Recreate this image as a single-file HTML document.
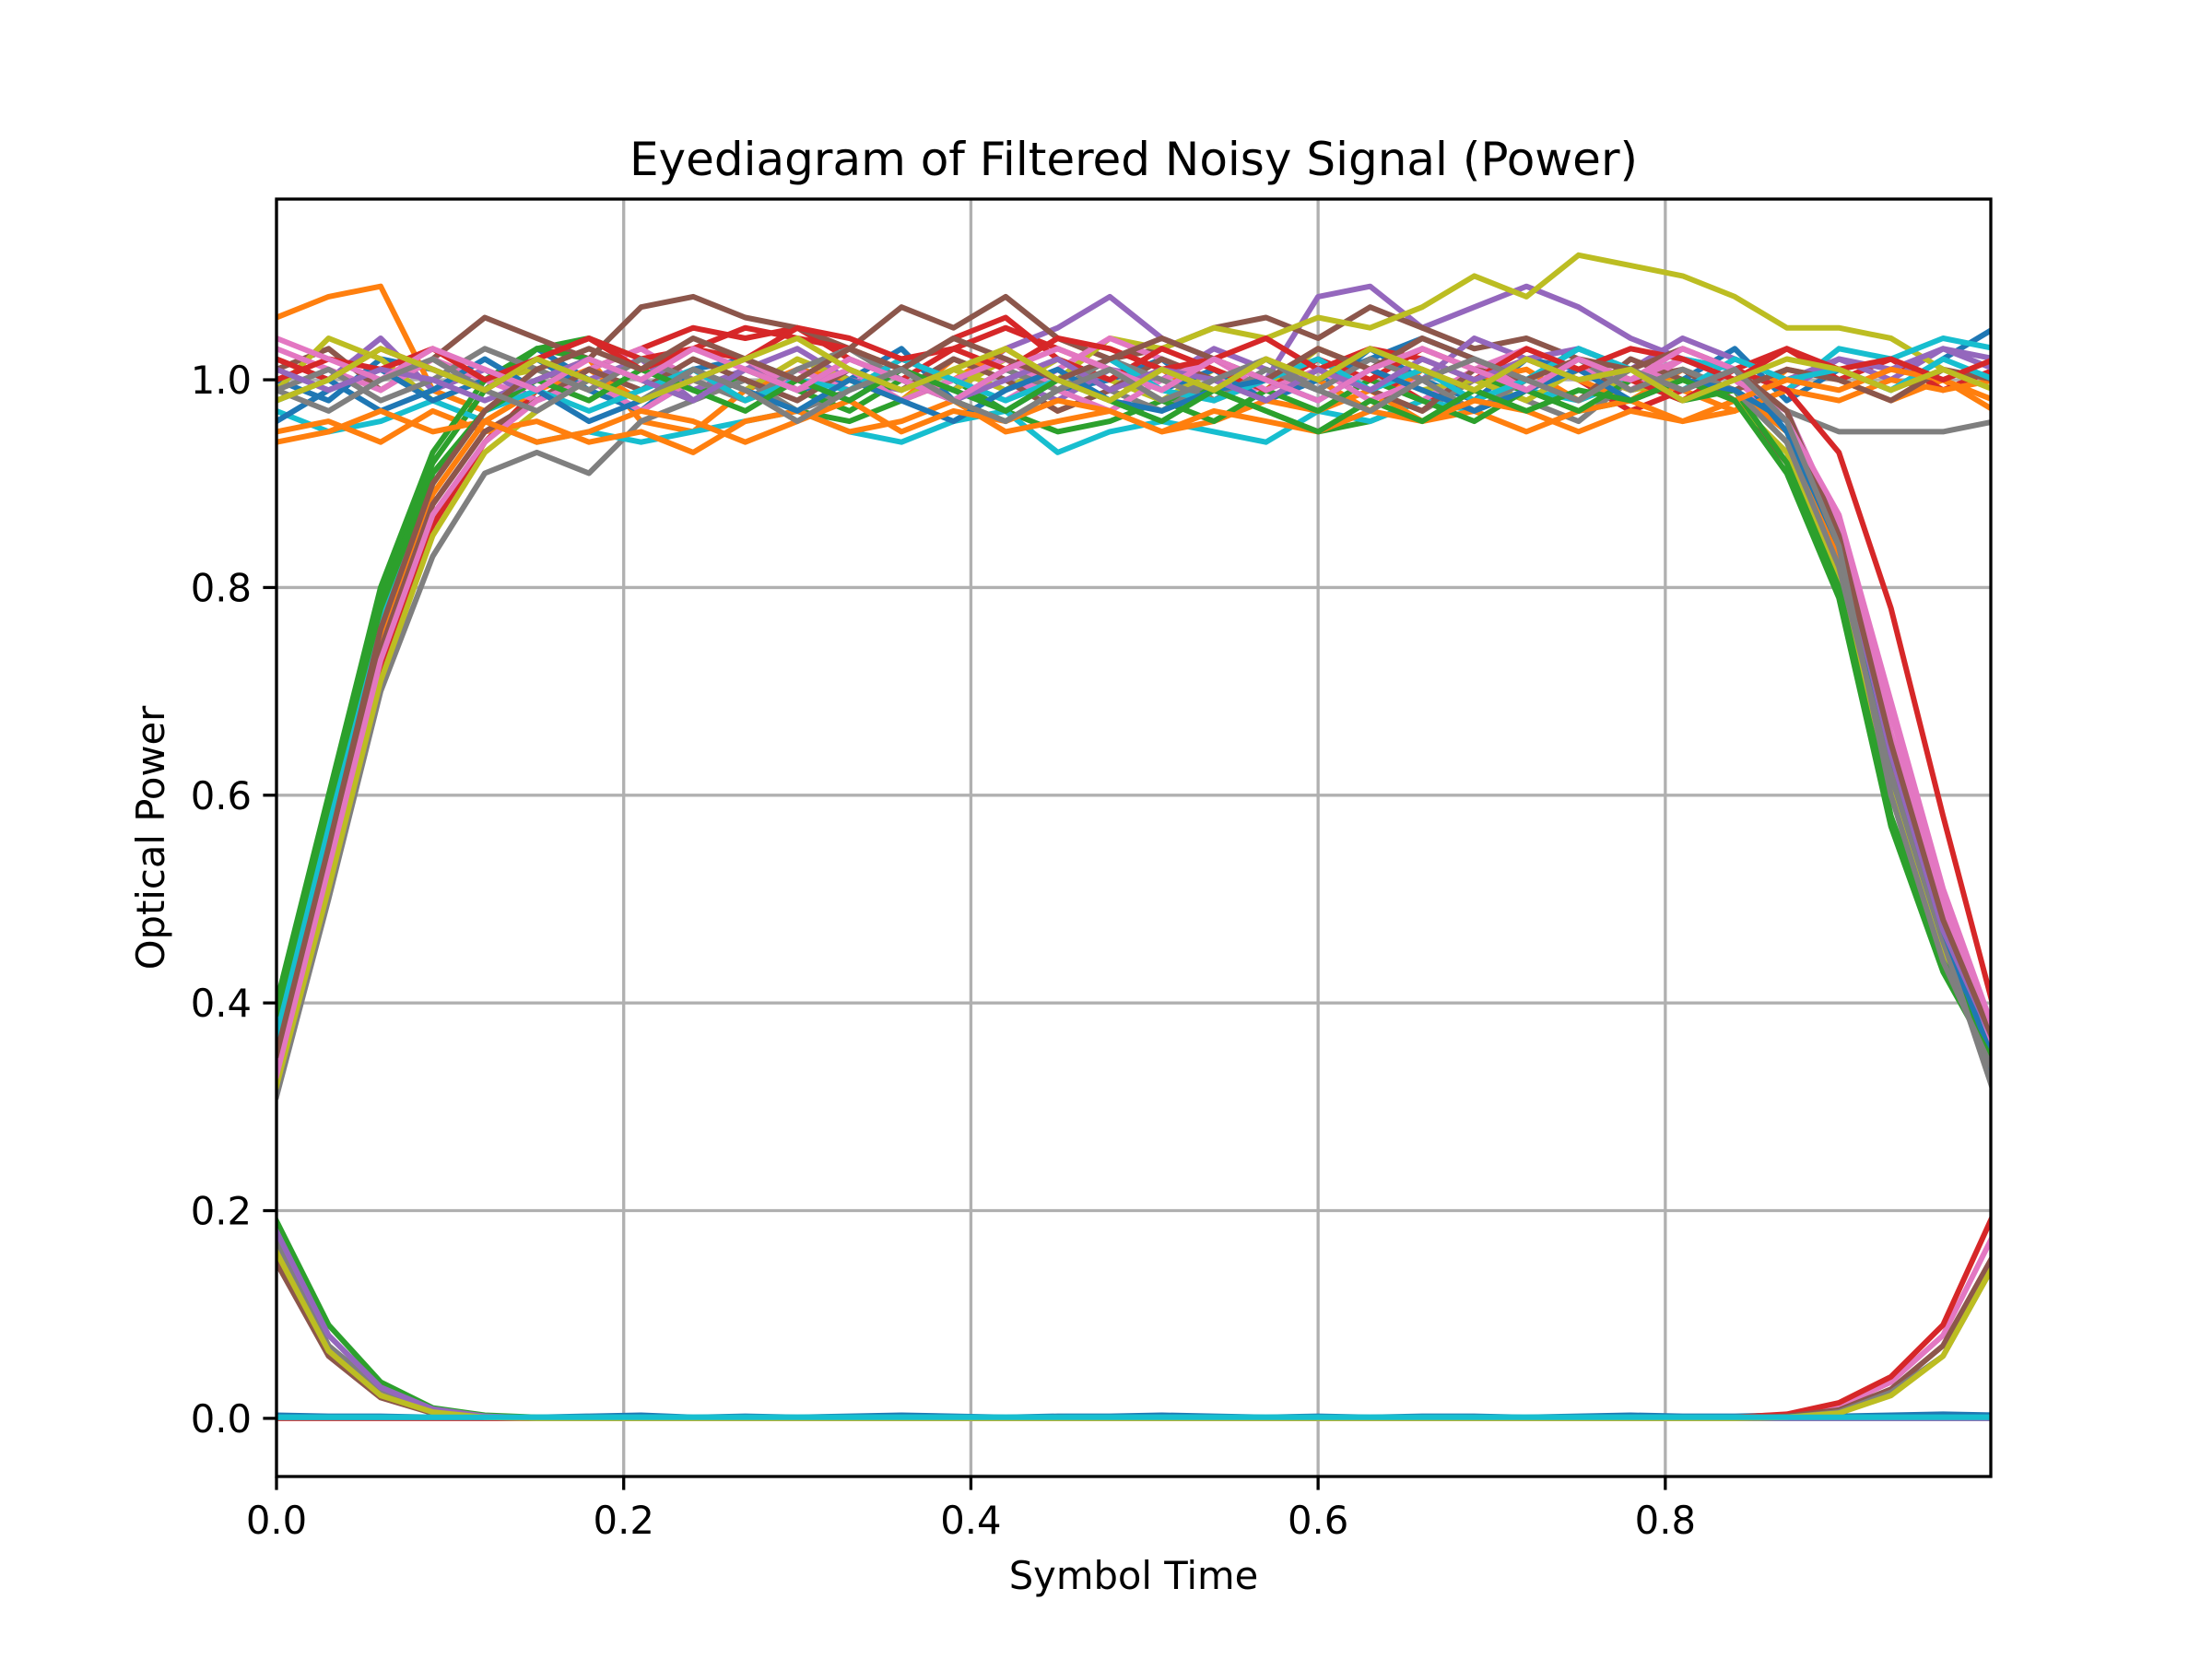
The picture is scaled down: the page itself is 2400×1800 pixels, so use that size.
<!DOCTYPE html>
<html><head><meta charset="utf-8"><style>
html,body{margin:0;padding:0;background:#fff;}
svg{display:block;font-family:"DejaVu Sans","Liberation Sans",sans-serif;}
</style></head><body>
<svg id="chart" width="2400" height="1800" viewBox="0 0 2400 1800" xmlns="http://www.w3.org/2000/svg">
<rect x="0" y="0" width="2400" height="1800" fill="#fff"/>
<defs><clipPath id="plotclip"><rect x="300" y="216" width="1860" height="1386"/></clipPath></defs>
<g id="grid"></g>
<g id="traces" clip-path="url(#plotclip)"></g>
<rect x="300" y="216" width="1860" height="1386" fill="none" stroke="#000" stroke-width="3.3"/>
<g id="ticks"></g>
<text x="1230" y="190" font-size="50" text-anchor="middle">Eyediagram of Filtered Noisy Signal (Power)</text>
<text x="1230" y="1724" font-size="41.7" text-anchor="middle">Symbol Time</text>
<text x="0" y="0" font-size="41.7" text-anchor="middle" transform="translate(178,909) rotate(-90)">Optical Power</text>
</svg>
<script>
const xTicks=[0,0.2,0.4,0.6,0.8];
const xTickLabels=["0.0","0.2","0.4","0.6","0.8"];
const yTicks=[0,0.2,0.4,0.6,0.8,1.0];
const yTickLabels=["0.0","0.2","0.4","0.6","0.8","1.0"];
const times=[0,0.03,0.06,0.09,0.12,0.15,0.18,0.21,0.24,0.27,0.30,0.33,0.36,0.39,0.42,0.45,0.48,0.51,0.54,0.57,0.60,0.63,0.66,0.69,0.72,0.75,0.78,0.81,0.84,0.87,0.90,0.93,0.96,0.99];
const colors=["#1f77b4","#ff7f0e","#2ca02c","#d62728","#9467bd","#8c564b","#e377c2","#7f7f7f","#bcbd22","#17becf"];
const trace0=[1.00,0.98,1.02,1.01,0.99,1.03,1.00,0.97,1.01,1.02,0.99,1.00,1.03,0.98,1.01,0.99,1.00,1.02,0.98,1.01,0.99,1.03,1.00,0.98,1.02,1.01,0.99,1.00,1.03,0.98,1.01,0.99,1.02,1.05];
const trace1=[1.06,1.08,1.09,0.99,0.97,1.00,1.02,0.96,0.95,0.99,1.01,1.00,0.98,1.02,1.00,0.97,0.99,1.01,0.98,1.00,1.02,0.99,0.97,1.00,1.01,0.98,1.00,0.99,0.97,1.01,1.00,0.98,1.00,0.97];
const trace2=[0.38,0.58,0.79,0.92,0.99,1.03,1.04,1.02,0.99,1.00,0.97,0.96,0.98,1.00,0.97,0.95,0.96,0.98,0.99,0.97,0.95,0.96,0.98,1.00,0.99,0.97,0.98,1.00,0.99,0.94,0.82,0.60,0.46,0.34];
const trace3=[0.33,0.52,0.72,0.86,0.94,0.99,1.01,1.03,1.05,1.04,1.05,1.02,1.00,1.03,1.05,1.03,1.01,0.99,1.02,1.00,1.03,1.01,0.98,1.00,1.02,1.00,0.97,0.99,1.01,1.03,1.00,1.02,0.99,1.01];
const trace4=[1.02,1.00,1.04,0.99,1.01,0.98,1.00,1.02,0.99,1.01,1.00,0.98,1.01,0.99,1.03,1.05,1.08,1.04,1.02,1.00,1.08,1.09,1.05,1.07,1.09,1.07,1.04,1.02,1.01,0.99,1.02,1.00,1.03,1.01];
const trace5=[1.01,1.03,0.99,1.02,1.06,1.04,1.02,1.07,1.08,1.06,1.05,1.03,1.07,1.05,1.08,1.04,1.02,1.03,1.05,1.06,1.04,1.07,1.05,1.03,1.04,1.02,1.00,1.01,0.98,0.92,0.80,0.63,0.48,0.35];
const trace6=[0.16,0.07,0.025,0.006,0.001,0,0,0,0,0,0,0,0,0,0,0,0,0,0,0,0,0,0,0,0,0,0,0,0.001,0.003,0.012,0.035,0.08,0.18];
const trace7=[0.31,0.50,0.70,0.83,0.91,0.93,0.91,0.96,0.98,1.00,0.97,0.99,1.01,0.98,1.00,1.02,0.99,0.97,1.00,0.98,1.01,0.99,0.97,1.00,0.98,0.96,1.00,1.02,1.00,0.97,0.95,0.95,0.95,0.96];
const trace8=[0.99,1.04,1.02,0.98,1.00,1.01,0.99,1.02,1.00,0.98,1.00,1.03,1.01,0.99,1.02,1.00,1.04,1.03,1.05,1.04,1.06,1.05,1.07,1.10,1.08,1.12,1.11,1.10,1.08,1.05,1.05,1.04,1.01,0.99];
const trace9=[0.97,0.95,0.96,0.98,0.96,0.94,0.95,0.94,0.95,0.96,0.97,0.95,0.94,0.96,0.97,0.93,0.95,0.96,0.95,0.94,0.97,0.96,0.98,0.97,0.99,0.98,1.00,1.02,1.01,0.99,1.03,1.02,1.04,1.03];
const trace10=[0.003,0.002,0.002,0.001,0.002,0.001,0.002,0.003,0.001,0.002,0.001,0.002,0.003,0.002,0.001,0.002,0.002,0.003,0.002,0.001,0.002,0.001,0.002,0.002,0.001,0.002,0.003,0.002,0.002,0.003,0.002,0.003,0.004,0.003];
const trace11=[0.36,0.55,0.75,0.89,0.96,0.99,1.01,0.98,1.00,1.02,0.99,1.01,0.98,1.00,1.03,1.00,0.98,1.01,0.99,1.02,1.00,0.97,1.01,0.99,1.02,1.00,0.98,1.01,0.99,0.95,0.83,0.63,0.47,0.36];
const trace12=[0.19,0.09,0.035,0.01,0.003,0.001,0,0,0,0,0,0,0,0,0,0,0,0,0,0,0,0,0,0,0,0,0,0,0,0,0,0,0,0];
const trace13=[0,0,0,0,0,0,0.001,0,0,0,0,0,0,0,0,0.001,0,0,0,0,0,0,0,0.001,0,0,0,0,0.001,0.004,0.015,0.04,0.09,0.20];
const trace14=[0.34,0.54,0.74,0.88,0.95,0.98,1.00,1.02,0.98,1.01,1.03,1.00,0.99,1.02,1.00,0.98,1.01,1.00,1.03,1.01,0.99,1.02,1.00,1.04,1.02,1.03,1.01,1.04,1.02,1.00,1.02,1.01,1.03,1.02];
const trace15=[0.15,0.06,0.02,0.005,0.001,0,0,0,0,0,0,0,0,0,0,0,0,0,0,0,0,0,0,0,0,0,0,0,0,0.002,0.008,0.028,0.07,0.16];
const trace16=[1.03,1.01,0.99,1.02,1.00,0.98,1.01,1.03,1.00,0.98,1.01,0.99,1.02,1.00,0.98,1.01,1.04,1.02,1.00,0.99,1.02,1.00,0.98,1.01,1.03,1.01,0.99,1.02,1.00,0.96,0.86,0.68,0.50,0.37];
const trace17=[0.17,0.07,0.028,0.008,0.002,0,0,0,0,0,0,0,0,0,0,0,0,0,0,0,0,0,0,0,0,0,0,0,0,0.001,0.006,0.025,0.06,0.15];
const trace18=[0.32,0.51,0.71,0.85,0.93,0.97,1.00,0.98,1.01,0.99,1.02,1.00,0.98,1.01,0.99,1.02,1.00,0.98,1.01,0.99,1.03,1.01,0.99,1.00,0.98,1.01,0.99,1.00,0.98,0.93,0.81,0.61,0.45,0.33];
const trace19=[0.001,0.001,0.001,0.001,0.001,0.001,0.001,0.001,0.001,0.001,0.001,0.001,0.001,0.001,0.001,0.001,0.001,0.001,0.001,0.001,0.001,0.001,0.001,0.001,0.001,0.001,0.001,0.001,0.001,0.001,0.001,0.001,0.001,0.001];
const trace20=[0.96,0.99,1.01,0.98,1.00,1.02,0.99,0.97,1.00,1.02,1.00,0.98,1.01,0.99,0.97,1.00,1.02,0.99,1.01,0.98,1.00,1.02,1.04,1.02,1.00,1.03,1.01,0.99,1.01,0.95,0.84,0.62,0.46,0.32];
const trace21=[0.95,0.96,0.94,0.97,0.95,0.96,0.94,0.95,0.93,0.96,0.97,0.95,0.96,0.98,0.95,0.96,0.97,0.95,0.96,0.98,0.97,0.99,0.96,0.97,0.95,0.97,0.98,0.96,0.97,0.99,0.98,1.00,0.99,1.00];
const trace22=[0.40,0.60,0.80,0.93,1.00,1.03,1.02,1.00,0.98,1.01,0.99,0.97,1.00,0.98,0.96,0.99,1.01,0.98,0.96,0.99,0.97,1.00,0.98,0.96,0.99,0.97,1.00,0.98,0.99,0.92,0.80,0.58,0.44,0.35];
const trace23=[1.02,1.00,1.03,1.01,0.99,1.02,1.04,1.02,1.03,1.05,1.04,1.03,1.01,1.04,1.06,1.02,1.00,1.03,1.01,0.99,1.02,1.00,1.03,1.01,0.99,1.02,1.00,0.98,1.01,0.99,0.93,0.78,0.58,0.39];
const trace24=[0.18,0.08,0.03,0.009,0.002,0,0,0,0,0,0,0,0,0,0,0,0,0,0,0,0,0,0,0,0,0,0,0,0,0,0,0,0,0];
const trace25=[0.35,0.55,0.74,0.88,0.95,0.98,1.01,0.99,1.02,1.00,0.98,1.01,0.99,1.02,1.00,0.97,0.99,1.02,1.00,0.98,1.01,0.99,0.97,1.01,1.00,0.98,1.02,1.00,0.99,1.01,1.00,0.98,1.01,1.00];
const trace26=[0.33,0.53,0.73,0.87,0.94,0.98,1.00,0.97,1.00,1.02,0.99,1.01,0.98,1.00,1.02,0.99,0.97,1.00,1.02,0.99,1.01,0.98,1.00,1.02,0.99,1.01,1.00,1.02,1.00,0.97,0.86,0.66,0.49,0.35];
const trace27=[0.99,1.01,0.98,1.00,1.03,1.01,0.99,1.02,1.00,0.98,1.01,1.03,1.00,0.98,1.01,0.99,1.02,1.00,0.98,1.01,0.99,1.02,1.00,0.97,1.00,1.02,0.99,1.01,0.99,0.94,0.82,0.62,0.46,0.31];
const trace28=[0.16,0.065,0.022,0.006,0.001,0,0,0,0,0,0,0,0,0,0,0,0,0,0,0,0,0,0,0,0,0,0,0,0,0.001,0.005,0.022,0.06,0.15];
const trace29=[0.37,0.57,0.77,0.90,0.97,0.99,0.97,0.99,1.01,0.98,1.00,0.99,1.02,1.00,0.98,1.00,1.02,0.99,0.98,1.00,1.02,0.99,1.01,0.98,1.00,1.03,1.01,0.99,1.02,1.00,1.01,0.99,1.02,1.00];
const trace30=[0.98,1.00,0.97,0.99,1.02,0.99,0.96,0.98,1.01,0.99,0.97,1.00,0.98,0.96,0.99,1.01,0.98,0.97,0.99,1.00,0.98,1.01,0.99,0.97,0.99,1.01,0.98,1.00,0.99,0.96,0.85,0.64,0.47,0.34];
const trace31=[0.94,0.95,0.97,0.95,0.96,0.94,0.95,0.97,0.96,0.94,0.96,0.98,0.95,0.97,0.96,0.98,0.97,0.95,0.97,0.96,0.95,0.97,0.96,0.98,0.97,0.95,0.97,0.96,0.98,1.00,0.99,1.01,1.00,0.98];
const trace32=[0.39,0.59,0.78,0.91,0.97,1.00,0.98,1.01,0.99,0.97,1.00,0.98,1.01,0.99,0.97,1.00,0.98,0.96,0.99,0.97,0.95,0.98,0.96,0.99,0.97,0.99,0.98,1.00,0.98,0.91,0.79,0.57,0.43,0.34];
const trace33=[1.00,1.02,1.01,1.03,1.00,1.02,1.04,1.01,1.03,1.02,1.05,1.04,1.02,1.03,1.01,1.04,1.03,1.01,1.02,1.04,1.01,1.03,1.02,1.00,1.03,1.01,1.03,1.02,1.00,1.03,1.01,1.02,1.00,1.02];
const trace34=[1.01,0.99,1.01,1.00,0.98,1.00,1.02,1.00,0.98,1.01,0.99,1.02,1.00,0.98,1.00,1.02,0.99,1.01,1.00,0.98,1.01,0.99,1.02,1.00,1.02,1.00,1.01,0.99,1.01,0.97,0.85,0.64,0.47,0.36];
const trace35=[0.35,0.55,0.76,0.90,0.97,1.01,1.03,1.01,1.04,1.02,1.00,1.03,1.01,1.04,1.02,1.00,1.02,1.04,1.02,1.00,1.03,1.01,1.04,1.02,1.00,1.02,1.01,1.03,1.01,0.97,0.85,0.65,0.48,0.36];
const trace36=[1.04,1.02,1.00,1.03,1.01,0.99,1.02,1.00,1.03,1.01,0.99,1.02,1.00,0.98,1.01,1.03,1.01,0.99,1.02,1.00,0.98,1.01,1.03,1.01,0.99,1.02,1.00,1.03,1.01,0.96,0.87,0.69,0.51,0.37];
const trace37=[0.99,0.97,1.00,1.02,0.99,0.97,1.00,0.98,1.01,0.99,0.96,0.99,1.01,0.98,0.96,0.99,1.01,0.98,1.00,1.02,0.99,0.97,1.00,1.02,1.00,0.98,1.01,0.99,1.01,0.96,0.84,0.60,0.44,0.33];
const trace38=[0.98,1.00,1.03,1.01,0.99,1.02,1.00,0.98,1.00,1.02,1.04,1.01,0.99,1.01,1.03,1.00,0.98,1.01,0.99,1.02,1.00,1.03,1.01,0.99,1.02,1.00,1.01,0.98,1.00,1.02,1.01,0.99,1.01,0.99];
const trace39=[0.001,0.001,0.001,0.001,0.001,0.001,0.001,0.001,0.001,0.001,0.001,0.001,0.001,0.001,0.001,0.001,0.001,0.001,0.001,0.001,0.001,0.001,0.001,0.001,0.001,0.001,0.001,0.001,0.001,0.001,0.001,0.001,0.001,0.001];
const traces=[trace0,trace1,trace2,trace3,trace4,trace5,trace6,trace7,trace8,trace9,trace10,trace11,trace12,trace13,trace14,trace15,trace16,trace17,trace18,trace19,trace20,trace21,trace22,trace23,trace24,trace25,trace26,trace27,trace28,trace29,trace30,trace31,trace32,trace33,trace34,trace35,trace36,trace37,trace38,trace39];

const X0=300,X1=2160,Y0=216,Y1=1602,XMIN=0,XMAX=0.9875,YMIN=-0.056,YMAX=1.174;
function sx(v){return X0+(v-XMIN)/(XMAX-XMIN)*(X1-X0);}
function sy(v){return Y1-(v-YMIN)/(YMAX-YMIN)*(Y1-Y0);}
const NS="http://www.w3.org/2000/svg";
function mk(tag,attrs,parent){const e=document.createElementNS(NS,tag);for(const k in attrs)e.setAttribute(k,attrs[k]);parent.appendChild(e);return e;}
const grid=document.getElementById('grid'),ticks=document.getElementById('ticks'),tg=document.getElementById('traces');
xTicks.forEach((t,i)=>{
  const g=mk('line',{x1:sx(t),x2:sx(t),y1:Y0,y2:Y1,stroke:'#b0b0b0','stroke-width':3.3},grid);
  
  
  const tk=mk('line',{x1:sx(t),x2:sx(t),y1:Y1,y2:Y1+14.6,stroke:'#000','stroke-width':3.3},ticks);
  
  
  const lb=mk('text',{x:sx(t),y:Y1+62,'font-size':41.7,'text-anchor':'middle'},ticks);
  lb.textContent=xTickLabels[i];
  
  
});
yTicks.forEach((t,i)=>{
  const g=mk('line',{x1:X0,x2:X1,y1:sy(t),y2:sy(t),stroke:'#b0b0b0','stroke-width':3.3},grid);
  
  
  const tk=mk('line',{x1:X0-14.6,x2:X0,y1:sy(t),y2:sy(t),stroke:'#000','stroke-width':3.3},ticks);
  
  
  const lb=mk('text',{x:X0-27,y:sy(t)+15,'font-size':41.7,'text-anchor':'end'},ticks);
  lb.textContent=yTickLabels[i];
  
  
});
traces.forEach((vals,i)=>{
  const d=vals.map((v,j)=>(j?'L':'M')+sx(times[j]).toFixed(1)+','+sy(v).toFixed(1)).join(' ');
  const p=mk('path',{d:d,fill:'none',stroke:colors[i%10],'stroke-width':6,'stroke-linejoin':'round','stroke-linecap':'square'},tg);
  
  
});
</script>
</body></html>
